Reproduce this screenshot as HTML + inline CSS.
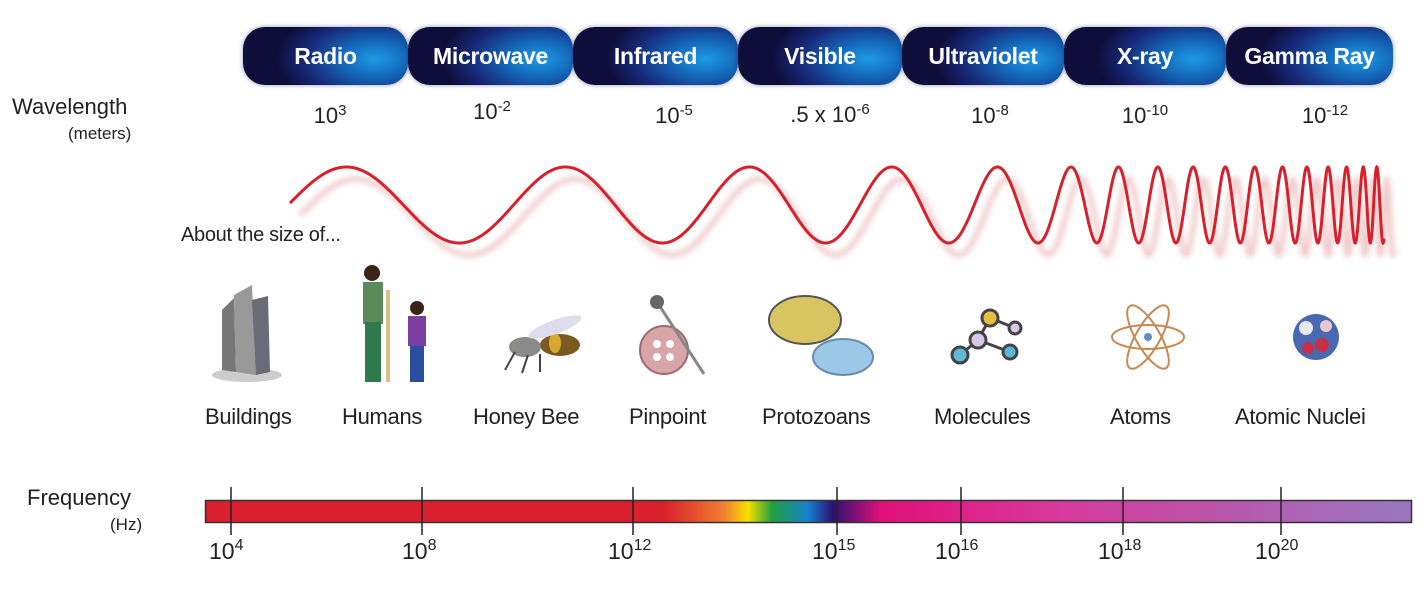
<!DOCTYPE html>
<html><head><meta charset="utf-8"><style>
html,body{margin:0;padding:0;background:#fff;}
body{width:1428px;height:594px;position:relative;overflow:hidden;font-family:"Liberation Sans",sans-serif;color:#222;}
.b{position:absolute;top:27px;height:58px;border-radius:22px;color:#fff;font-weight:bold;font-size:23px;line-height:58px;text-align:center;letter-spacing:-0.3px;
background:radial-gradient(ellipse 60% 90% at 80% 55%,#1e9be6 0%,#1466b8 35%,#162a7a 70%,#0f0d3a 100%);
box-shadow:0 0 5px rgba(20,20,80,.45);}
.t{position:absolute;font-size:22px;text-align:center;}
.t sup{font-size:15px;vertical-align:8px;}
.lab{position:absolute;font-size:22px;top:404px;letter-spacing:-0.3px;}
.f{position:absolute;top:537px;font-size:23px;}
.f sup{font-size:16px;vertical-align:9px;}
</style></head><body>
<div class="b" style="left:243px;width:165px">Radio</div>
<div class="b" style="left:408px;width:165px">Microwave</div>
<div class="b" style="left:573px;width:165px">Infrared</div>
<div class="b" style="left:738px;width:164px">Visible</div>
<div class="b" style="left:902px;width:162px">Ultraviolet</div>
<div class="b" style="left:1064px;width:162px">X-ray</div>
<div class="b" style="left:1226px;width:167px">Gamma Ray</div>

<div style="position:absolute;left:12px;top:94px;font-size:22px">Wavelength</div>
<div style="position:absolute;left:68px;top:124px;font-size:17px">(meters)</div>
<div class="t" style="left:290px;width:80px;top:102px">10<sup>3</sup></div>
<div class="t" style="left:452px;width:80px;top:98px">10<sup>-2</sup></div>
<div class="t" style="left:634px;width:80px;top:102px">10<sup>-5</sup></div>
<div class="t" style="left:760px;width:140px;top:101px">.5 x 10<sup>-6</sup></div>
<div class="t" style="left:950px;width:80px;top:102px">10<sup>-8</sup></div>
<div class="t" style="left:1100px;width:90px;top:102px">10<sup>-10</sup></div>
<div class="t" style="left:1280px;width:90px;top:102px">10<sup>-12</sup></div>

<div style="position:absolute;left:181px;top:224px;font-size:20px;letter-spacing:-0.3px">About the size of...</div>

<svg id="w" width="1428" height="594" style="position:absolute;left:0;top:0">
<defs><filter id="bl"><feGaussianBlur stdDeviation="3"/></filter></defs>
<path id="sh" fill="none" stroke="#f0c8c8" stroke-width="5" filter="url(#bl)" transform="translate(10,12)"/>
<path id="wv" fill="none" stroke="#d9202a" stroke-width="3"/>
<g>
<ellipse cx="247" cy="375" rx="35" ry="7" fill="#ccc"/>
<polygon points="222,310 234,298 236,372 222,370" fill="#777"/>
<polygon points="234,295 252,285 256,375 236,372" fill="#999"/>
<polygon points="252,300 268,296 270,372 256,375" fill="#6a6a78"/>
</g>
<g>
<circle cx="372" cy="273" r="8" fill="#3a2418"/>
<rect x="363" y="282" width="20" height="42" fill="#5a8a5a"/>
<rect x="365" y="322" width="16" height="60" fill="#2f7a4c"/>
<rect x="386" y="290" width="4" height="92" fill="#d8c08a"/>
<circle cx="417" cy="308" r="7" fill="#3a2418"/>
<rect x="408" y="316" width="18" height="30" fill="#7a3fa0"/>
<rect x="410" y="346" width="14" height="36" fill="#2a4ea0"/>
</g>
<g>
<ellipse cx="560" cy="345" rx="20" ry="11" fill="#7a5a20"/>
<ellipse cx="555" cy="343" rx="6" ry="10" fill="#d8a830"/>
<ellipse cx="525" cy="347" rx="16" ry="10" fill="#8a8a88"/>
<ellipse cx="555" cy="327" rx="28" ry="7" fill="#dde" transform="rotate(-20 555 327)"/>
<path d="M515 352 l-10 18 M528 355 l-6 18 M540 354 l0 18" stroke="#444" stroke-width="2"/>
</g>
<g>
<circle cx="664" cy="350" r="24" fill="#d8a6a8" stroke="#a06870" stroke-width="2"/>
<circle cx="657" cy="344" r="4" fill="#fff"/><circle cx="670" cy="344" r="4" fill="#fff"/>
<circle cx="657" cy="357" r="4" fill="#fff"/><circle cx="670" cy="357" r="4" fill="#fff"/>
<line x1="657" y1="302" x2="704" y2="374" stroke="#888" stroke-width="3"/>
<circle cx="657" cy="302" r="7" fill="#666"/>
</g>
<g>
<ellipse cx="805" cy="320" rx="36" ry="24" fill="#d8c460" stroke="#555" stroke-width="2"/>
<ellipse cx="843" cy="357" rx="30" ry="18" fill="#9cc8e8" stroke="#6a8aa8" stroke-width="2"/>
</g>
<g stroke="#444" stroke-width="3">
<line x1="960" y1="355" x2="978" y2="340"/><line x1="978" y1="340" x2="990" y2="318"/><line x1="978" y1="340" x2="1010" y2="352"/><line x1="990" y1="318" x2="1015" y2="328"/>
<circle cx="960" cy="355" r="8" fill="#60b8d8"/><circle cx="978" cy="340" r="8" fill="#d8c8e8"/><circle cx="990" cy="318" r="8" fill="#e8c040"/><circle cx="1010" cy="352" r="7" fill="#60b8d8"/><circle cx="1015" cy="328" r="6" fill="#d8c8e8"/>
</g>
<g fill="none" stroke="#c88850" stroke-width="2">
<ellipse cx="1148" cy="337" rx="36" ry="12"/><ellipse cx="1148" cy="337" rx="36" ry="12" transform="rotate(60 1148 337)"/><ellipse cx="1148" cy="337" rx="36" ry="12" transform="rotate(-60 1148 337)"/>
<circle cx="1148" cy="337" r="4" fill="#6688cc" stroke="none"/>
</g>
<g>
<circle cx="1316" cy="337" r="23" fill="#4868b0"/>
<circle cx="1306" cy="328" r="7" fill="#e8e8f0"/><circle cx="1322" cy="345" r="7" fill="#c83048"/><circle cx="1326" cy="326" r="6" fill="#e8c8d0"/><circle cx="1308" cy="348" r="6" fill="#c83048"/>
</g>
<defs><linearGradient id="fg" x1="205" x2="1412" gradientUnits="userSpaceOnUse">
<stop offset="0" stop-color="#d8202c"/><stop offset="0.38" stop-color="#d8202c"/>
<stop offset="0.43" stop-color="#f08030"/><stop offset="0.45" stop-color="#f8e000"/>
<stop offset="0.47" stop-color="#20a040"/><stop offset="0.5" stop-color="#1880d0"/>
<stop offset="0.52" stop-color="#2a1070"/><stop offset="0.56" stop-color="#e0107a"/>
<stop offset="0.7" stop-color="#d8389a"/><stop offset="1" stop-color="#9878c0"/>
</linearGradient></defs>
<rect x="205.5" y="500.5" width="1206" height="22" fill="url(#fg)" stroke="#333" stroke-width="1.5"/>
<g stroke="#222" stroke-width="1.5">
<line x1="231" y1="487" x2="231" y2="535"/><line x1="422" y1="487" x2="422" y2="535"/><line x1="633" y1="487" x2="633" y2="535"/><line x1="837" y1="487" x2="837" y2="535"/><line x1="961" y1="487" x2="961" y2="535"/><line x1="1123" y1="487" x2="1123" y2="535"/><line x1="1281" y1="487" x2="1281" y2="535"/>
</g>
</svg>

<div class="lab" style="left:205px">Buildings</div>
<div class="lab" style="left:342px">Humans</div>
<div class="lab" style="left:473px">Honey Bee</div>
<div class="lab" style="left:629px">Pinpoint</div>
<div class="lab" style="left:762px">Protozoans</div>
<div class="lab" style="left:934px">Molecules</div>
<div class="lab" style="left:1110px">Atoms</div>
<div class="lab" style="left:1235px">Atomic Nuclei</div>

<div style="position:absolute;left:27px;top:485px;font-size:22px">Frequency</div>
<div style="position:absolute;left:110px;top:515px;font-size:17px">(Hz)</div>
<div class="f" style="left:209px">10<sup>4</sup></div>
<div class="f" style="left:402px">10<sup>8</sup></div>
<div class="f" style="left:608px">10<sup>12</sup></div>
<div class="f" style="left:812px">10<sup>15</sup></div>
<div class="f" style="left:935px">10<sup>16</sup></div>
<div class="f" style="left:1098px">10<sup>18</sup></div>
<div class="f" style="left:1255px">10<sup>20</sup></div>
<script>
var P=[[290,235],[463,221],[666,185],[830,141],[952,105],[1041,73],[1100,44],[1141,39],[1178,35],[1212,32],[1242,29],[1271,28],[1297,24],[1320,21],[1339,18],[1356,17],[1371,13],[1390,12]];
function per(x){for(var i=0;i<P.length-1;i++){if(x<=P[i+1][0]){var t=(x-P[i][0])/(P[i+1][0]-P[i][0]);return P[i][1]+t*(P[i+1][1]-P[i][1]);}}return 12;}
var ph=0.05,d="",cy=205,A=38;
for(var x=290;x<=1384;x+=0.25){var y=cy-A*Math.sin(ph);d+=(x==290?"M":"L")+x+" "+y.toFixed(2)+" ";ph+=2*Math.PI*0.25/per(x);}
document.getElementById("wv").setAttribute("d",d);
document.getElementById("sh").setAttribute("d",d);
</script>
</body></html>
